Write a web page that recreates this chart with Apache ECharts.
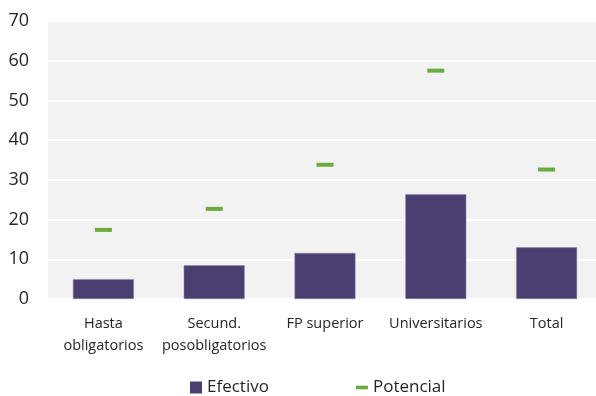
<!DOCTYPE html>
<html><head><meta charset="utf-8">
<script src="https://cdn.jsdelivr.net/npm/echarts@6/dist/echarts.min.js"></script>
<style>html,body{margin:0;padding:0;background:#fff;overflow:hidden}#c{width:602px;height:396px}</style>
</head><body><div id="c"></div>
<script>
const categories = ['Hasta\nobligatorios', 'Secund.\nposobligatorios', 'FP superior', 'Universitarios', 'Total'];
const efectivo = [5.0, 8.5, 11.6, 26.4, 13.0];
const potencial = [17.4, 22.7, 33.8, 57.5, 32.6];
const yTicks = [0, 10, 20, 30, 40, 50, 60, 70];

const font = '"Open Sans", "Noto Sans", sans-serif';
const chart = echarts.init(document.getElementById('c'));
chart.setOption({
  animation: false,
  textStyle: { fontFamily: font },
  grid: { left: 48, right: 0, top: 21, bottom: 97, show: true, backgroundColor: '#f2f2f2', borderWidth: 0 },
  legend: {
    bottom: -5, left: 185, itemGap: 87, itemWidth: 12, itemHeight: 12,
    textStyle: { fontSize: 17, color: '#262626', fontFamily: font },
    data: [
      { name: 'Efectivo', icon: 'rect', itemStyle: { borderWidth: 0 } },
      { name: 'Potencial', icon: 'path://M0,0H10V3H0Z', itemStyle: { color: '#6aaa3f', borderWidth: 0 } }
    ]
  },
  xAxis: {
    type: 'category', data: categories,
    axisLine: { show: false }, axisTick: { show: false },
    axisLabel: { interval: 0, fontSize: 14.5, color: '#262626', lineHeight: 22, margin: 14, fontFamily: font }
  },
  yAxis: {
    type: 'value', min: yTicks[0], max: yTicks[yTicks.length - 1], interval: 10,
    axisLine: { show: false }, axisTick: { show: false },
    splitLine: { lineStyle: { color: '#ffffff', width: 2 } },
    axisLabel: { fontSize: 18, color: '#262626', margin: 19, fontFamily: font }
  },
  series: [
    { name: 'Efectivo', type: 'bar', data: efectivo, barWidth: '55%',
      itemStyle: { color: '#4b3f72', borderColor: '#8e86aa', borderWidth: 0.5 } },
    { name: 'Potencial', type: 'scatter', data: potencial, symbol: 'rect', symbolSize: [17, 4],
      itemStyle: { color: '#6aaa3f', opacity: 1 } }
  ]
});
</script></body></html>
